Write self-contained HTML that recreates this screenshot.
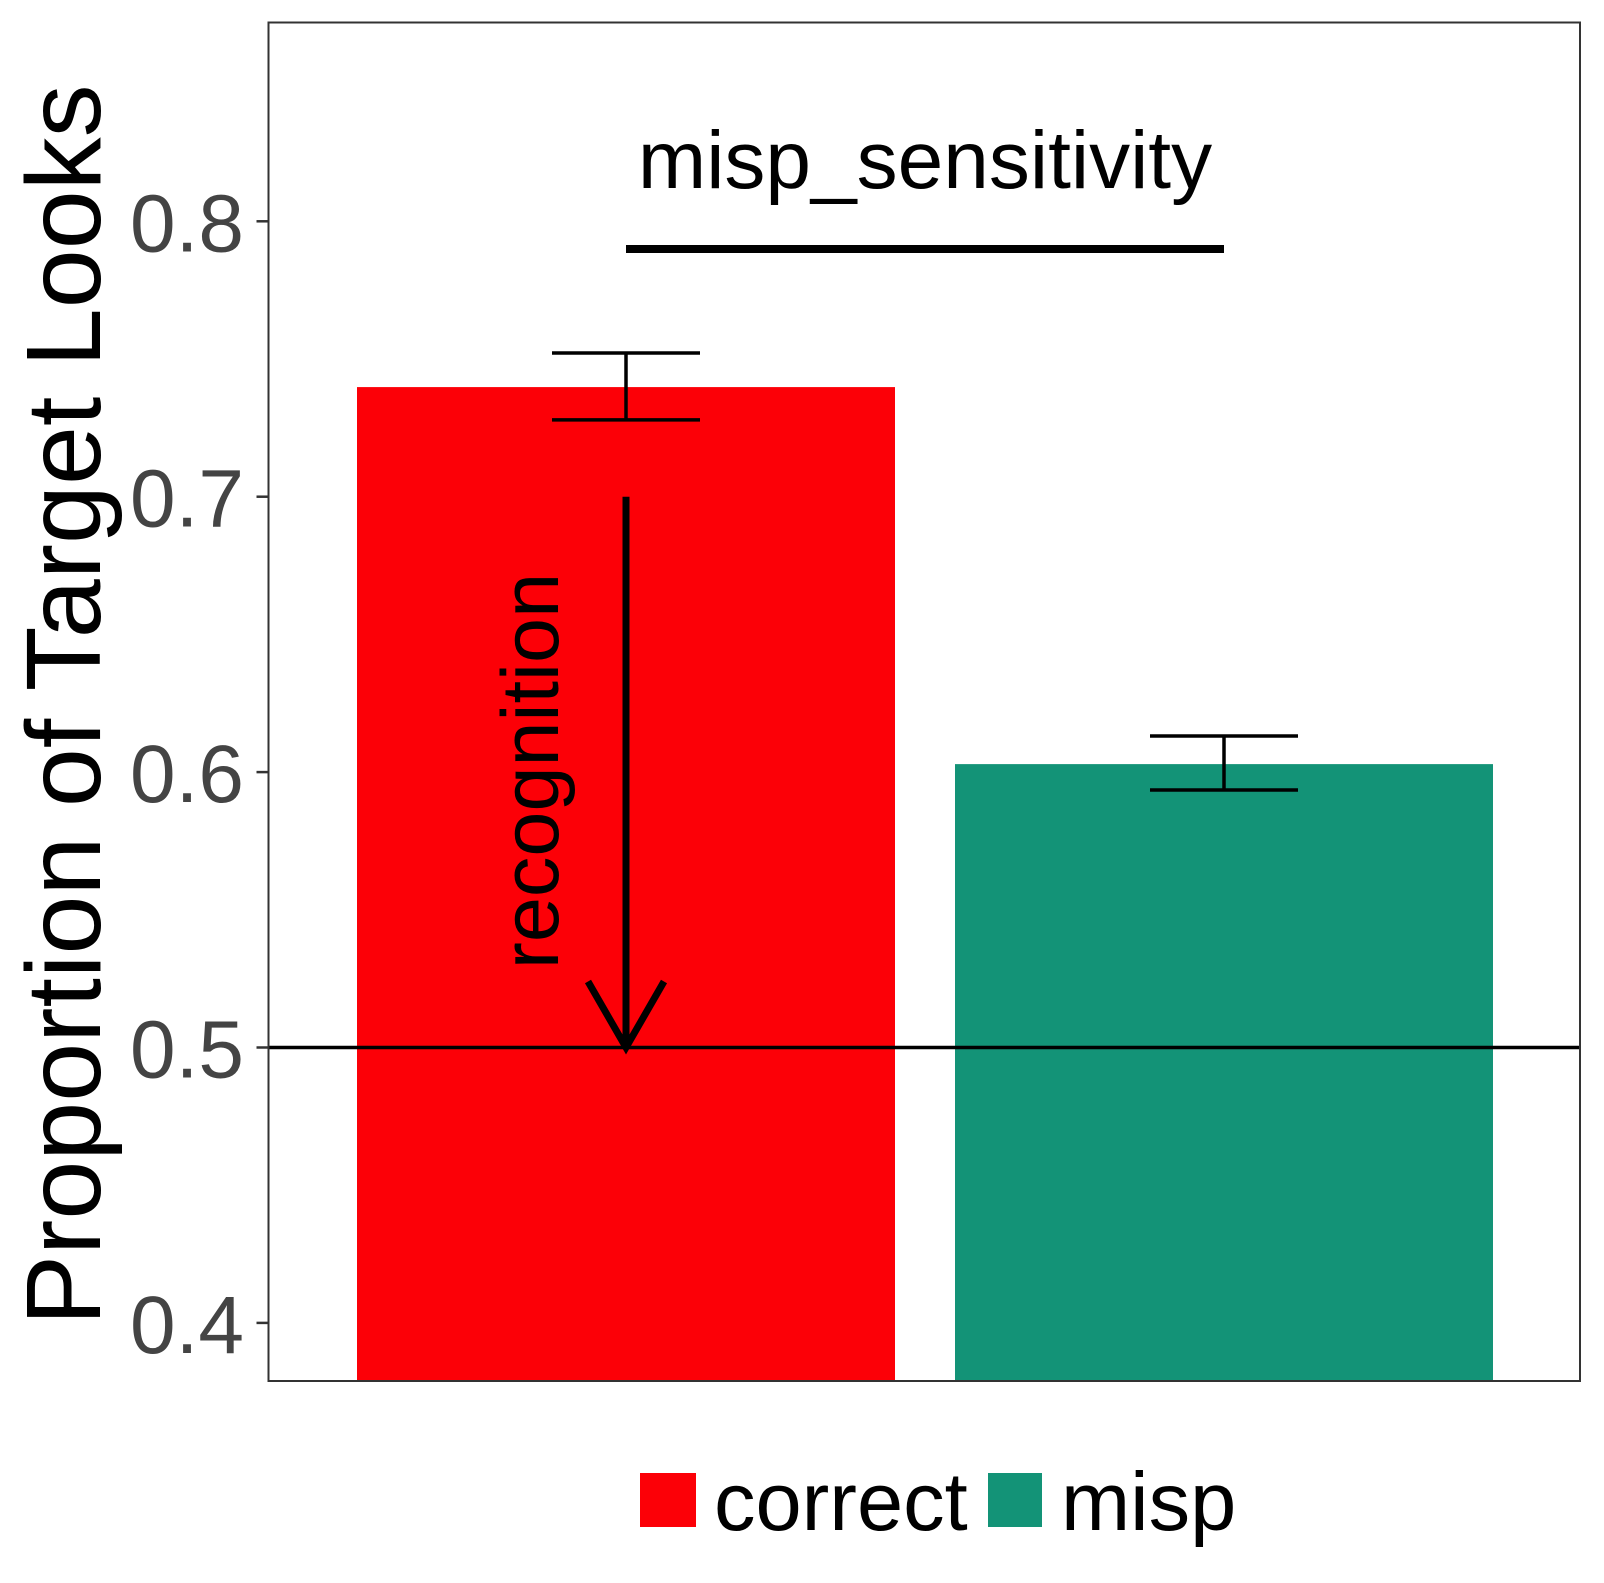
<!DOCTYPE html>
<html><head><meta charset="utf-8"><style>html,body{margin:0;padding:0;background:#fff}svg{display:block}</style></head>
<body>
<svg id="chart" width="1604" height="1583" viewBox="0 0 1604 1583" font-family="'Liberation Sans', Arial, sans-serif">
<rect x="0" y="0" width="1604" height="1583" fill="#fff"/>
<g id="marks"></g>
<rect x="268.5" y="22.5" width="1311.5" height="1358.5" fill="none" stroke="#333" stroke-width="2"/>
<text transform="translate(100,705) rotate(-90)" text-anchor="middle" font-size="106" fill="#000">Proportion of Target Looks</text>
<g>
<rect x="640" y="1473" width="56" height="54" fill="#fc0007"/>
<text x="714" y="1530" font-size="83" fill="#000">correct</text>
<rect x="988" y="1473" width="54" height="54" fill="#139377"/>
<text x="1061" y="1530" font-size="83" fill="#000">misp</text>
</g>
</svg>
<script>
const categories = ['correct','misp'];
const means = [0.7398, 0.6029];
const errLow = [0.7279, 0.5935];
const errHigh = [0.7522, 0.6131];
const tickValues = [0.4, 0.5, 0.6, 0.7, 0.8];
const tickLabels = ['0.4','0.5','0.6','0.7','0.8'];
const refValue = 0.5;
const arrowFrom = 0.7;
const colors = ['#fc0007','#139377'];

const NS='http://www.w3.org/2000/svg';
const panel={l:268.5,r:1580,t:22.5,b:1381};
const y=v=>1047.5-(v-0.5)*2754;
const band=598, x0=357, barW=538;
const xc=i=>x0+i*band+barW/2;
const g=document.getElementById('marks');
function mk(tag,at,parent){const e=document.createElementNS(NS,tag);for(const k in at)e.setAttribute(k,at[k]);(parent||g).appendChild(e);return e;}

categories.forEach((c,i)=>{
  const b=mk('rect',{x:x0+i*band,y:y(means[i]),width:barW,height:panel.b-y(means[i]),fill:colors[i]});
  
  
});
categories.forEach((c,i)=>{
  const eg=mk('g',{stroke:'#000','stroke-width':3.5,fill:'none'});
  
  
  const cx=xc(i);
  mk('line',{x1:cx,x2:cx,y1:y(errHigh[i]),y2:y(errLow[i])},eg);
  mk('line',{x1:cx-74,x2:cx+74,y1:y(errHigh[i]),y2:y(errHigh[i])},eg);
  mk('line',{x1:cx-74,x2:cx+74,y1:y(errLow[i]),y2:y(errLow[i])},eg);
});
const ref=mk('line',{x1:panel.l,x2:panel.r,y1:y(refValue),y2:y(refValue),stroke:'#000','stroke-width':3.5});



const ag=mk('g',{stroke:'#000','stroke-width':7,fill:'none'});


const ax=xc(0);
mk('line',{x1:ax,x2:ax,y1:y(arrowFrom),y2:y(refValue)},ag);
mk('polyline',{points:`${ax-38},${y(refValue)-66} ${ax},${y(refValue)} ${ax+38},${y(refValue)-66}`},ag);
const rt=mk('text',{transform:`translate(558,771) rotate(-90)`,'text-anchor':'middle','font-size':81,fill:'#000'});
rt.textContent='recognition';



const sl=mk('line',{x1:xc(0),x2:xc(1),y1:249,y2:249,stroke:'#000','stroke-width':8});


const st=mk('text',{x:(xc(0)+xc(1))/2,y:188,'text-anchor':'middle','font-size':82,fill:'#000'});
st.textContent='misp_sensitivity';



tickValues.forEach((v,i)=>{
  const t=mk('line',{x1:panel.l-12,x2:panel.l,y1:y(v),y2:y(v),stroke:'#333','stroke-width':2.5});
  
  
  const l=mk('text',{x:244,y:y(v)+30,'text-anchor':'end','font-size':82,fill:'#444'});
  l.textContent=tickLabels[i];
  
  
});
</script>
</body></html>
